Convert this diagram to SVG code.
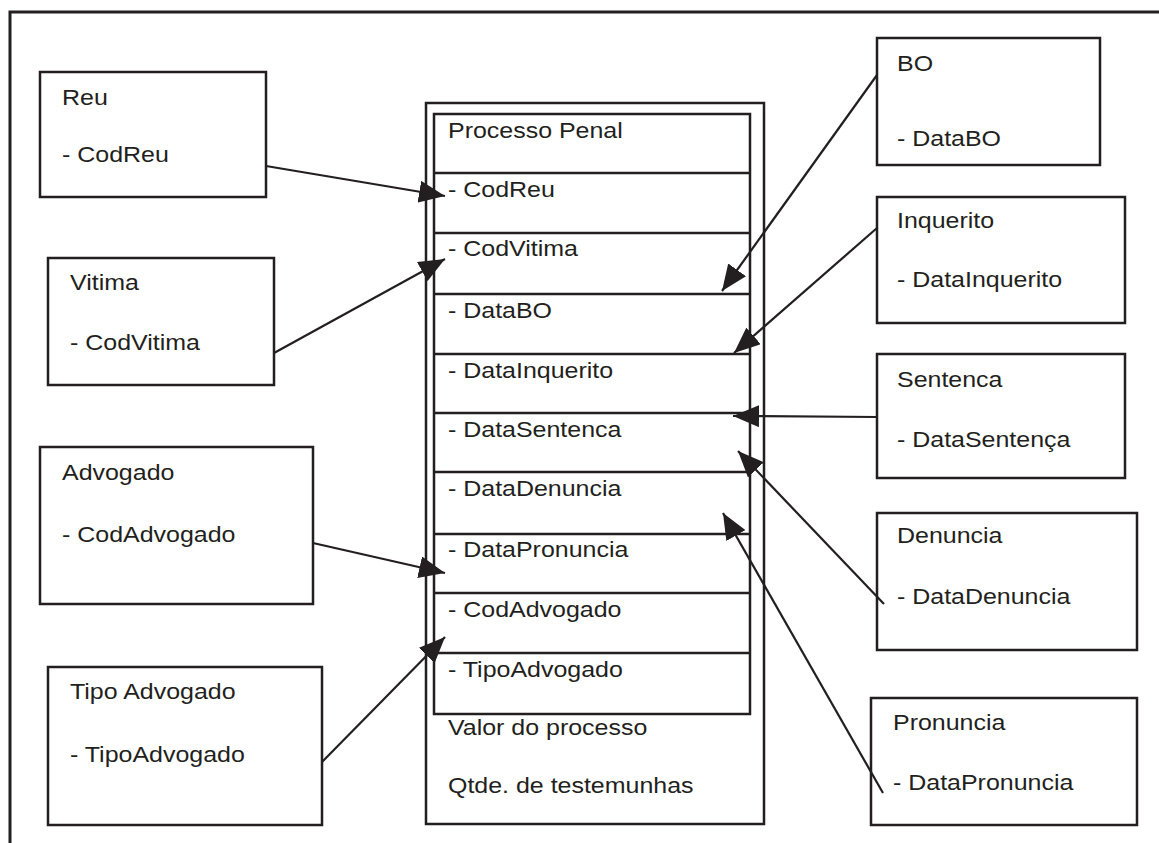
<svg xmlns="http://www.w3.org/2000/svg" width="1159" height="843" viewBox="0 0 1159 843">
<defs>
<style>
.box{fill:#fff;stroke:#231f20;stroke-width:2.5}
.t{font-family:"Liberation Sans",Arial,sans-serif;font-size:22px;fill:#231f20}
.c{stroke:#231f20;stroke-width:2.2;fill:none}
.frame{stroke:#231f20;stroke-width:3;fill:none}
</style>
<marker id="a" viewBox="0 0 26 22" refX="26" refY="11" markerWidth="26" markerHeight="22" markerUnits="userSpaceOnUse" orient="auto">
<path d="M0,0 L26,11 L0,22 Z" fill="#231f20"/>
</marker>
</defs>
<rect width="1159" height="843" fill="#fff"/>
<path class="frame" d="M10,843 L10,12 L1159,12"/>

<g id="reu"><rect class="box" x="40" y="72" width="226" height="125"/><text class="t" transform="matrix(1.135 0 0 1 62 105)">Reu</text><text class="t" transform="matrix(1.135 0 0 1 62 162)">- CodReu</text></g>
<g id="vitima"><rect class="box" x="48" y="258" width="226" height="127"/><text class="t" transform="matrix(1.135 0 0 1 70 290)">Vitima</text><text class="t" transform="matrix(1.135 0 0 1 70 350)">- CodVitima</text></g>
<g id="advogado"><rect class="box" x="40" y="447" width="273" height="157"/><text class="t" transform="matrix(1.135 0 0 1 62 480)">Advogado</text><text class="t" transform="matrix(1.135 0 0 1 62 542)">- CodAdvogado</text></g>
<g id="tipoadvogado"><rect class="box" x="48" y="667" width="274" height="158"/><text class="t" transform="matrix(1.135 0 0 1 70 699)">Tipo Advogado</text><text class="t" transform="matrix(1.135 0 0 1 70 762)">- TipoAdvogado</text></g>

<g id="processo">
<rect class="box" x="426" y="103" width="338" height="721"/>
<rect class="box" x="434" y="114" width="316" height="600"/>
<path class="box" d="M434,173H750M434,233H750M434,294H750M434,354H750M434,413H750M434,472H750M434,534H750M434,593H750M434,653H750"/>
<text class="t" transform="matrix(1.135 0 0 1 448 138)">Processo Penal</text>
<text class="t" transform="matrix(1.135 0 0 1 448 197)">- CodReu</text>
<text class="t" transform="matrix(1.135 0 0 1 448 256)">- CodVitima</text>
<text class="t" transform="matrix(1.135 0 0 1 448 318)">- DataBO</text>
<text class="t" transform="matrix(1.135 0 0 1 448 378)">- DataInquerito</text>
<text class="t" transform="matrix(1.135 0 0 1 448 437)">- DataSentenca</text>
<text class="t" transform="matrix(1.135 0 0 1 448 496)">- DataDenuncia</text>
<text class="t" transform="matrix(1.135 0 0 1 448 557)">- DataPronuncia</text>
<text class="t" transform="matrix(1.135 0 0 1 448 617)">- CodAdvogado</text>
<text class="t" transform="matrix(1.135 0 0 1 448 677)">- TipoAdvogado</text>
<text class="t" transform="matrix(1.135 0 0 1 448 735)">Valor do processo</text>
<text class="t" transform="matrix(1.135 0 0 1 448 793)">Qtde. de testemunhas</text>
</g>

<g id="bo"><rect class="box" x="877" y="38" width="223" height="127"/><text class="t" transform="matrix(1.135 0 0 1 897 71)">BO</text><text class="t" transform="matrix(1.135 0 0 1 897 146)">- DataBO</text></g>
<g id="inquerito"><rect class="box" x="877" y="197" width="248" height="126"/><text class="t" transform="matrix(1.135 0 0 1 897 228)">Inquerito</text><text class="t" transform="matrix(1.135 0 0 1 897 287)">- DataInquerito</text></g>
<g id="sentenca"><rect class="box" x="877" y="354" width="248" height="124"/><text class="t" transform="matrix(1.135 0 0 1 897 387)">Sentenca</text><text class="t" transform="matrix(1.135 0 0 1 897 447)">- DataSentença</text></g>
<g id="denuncia"><rect class="box" x="877" y="513" width="260" height="137"/><text class="t" transform="matrix(1.135 0 0 1 897 543)">Denuncia</text><text class="t" transform="matrix(1.135 0 0 1 897 604)">- DataDenuncia</text></g>
<g id="pronuncia"><rect class="box" x="871" y="698" width="266" height="127"/><text class="t" transform="matrix(1.135 0 0 1 893 730)">Pronuncia</text><text class="t" transform="matrix(1.135 0 0 1 893 790)">- DataPronuncia</text></g>

<g id="connectors">
<line class="c" x1="266" y1="166" x2="445" y2="196" marker-end="url(#a)"/>
<line class="c" x1="274" y1="353" x2="445" y2="259" marker-end="url(#a)"/>
<line class="c" x1="877" y1="75" x2="722" y2="291" marker-end="url(#a)"/>
<line class="c" x1="877" y1="228" x2="734" y2="353" marker-end="url(#a)"/>
<line class="c" x1="877" y1="417" x2="733" y2="416" marker-end="url(#a)"/>
<line class="c" x1="884" y1="604" x2="738" y2="451" marker-end="url(#a)"/>
<line class="c" x1="883" y1="793" x2="723" y2="513" marker-end="url(#a)"/>
<line class="c" x1="313" y1="543" x2="445" y2="573" marker-end="url(#a)"/>
<line class="c" x1="322" y1="762" x2="445" y2="637" marker-end="url(#a)"/>
</g>
</svg>
